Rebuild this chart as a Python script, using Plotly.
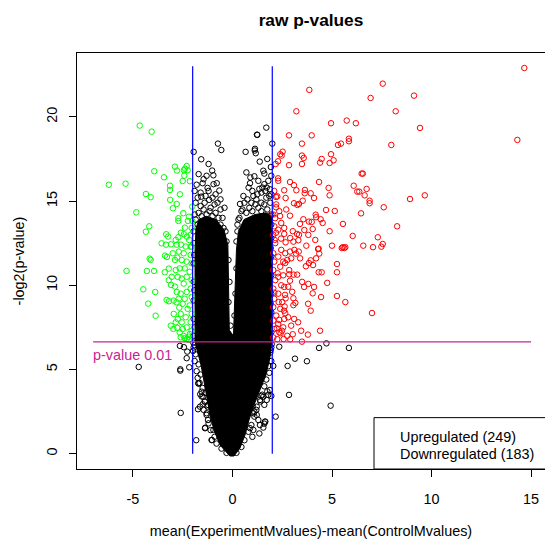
import math
import plotly.graph_objects as go

# ---------------- text / ticks ----------------
title = "raw p-values"
x_label = "mean(ExperimentMvalues)-mean(ControlMvalues)"
y_label = "-log2(p-value)"
x_ticks = [-5, 0, 5, 10, 15]
y_ticks = [0, 5, 10, 15, 20]
fc_cut = 2
p_cut = 0.01
p_label = "p-value 0.01"
legend_labels = ["Upregulated (249)", "Downregulated (183)"]

# ---------------- data ----------------
up_pts = [
    (14.66, 22.9), (7.55, 21.97), (3.86, 21.6), (9.12, 21.26), (6.94, 21.12), (3.21, 20.33), (8.2, 20.33),
    (4.95, 19.62), (5.74, 19.78), (6.2, 19.62), (9.42, 19.34), (2.84, 18.9), (3.98, 18.9), (3.49, 18.41),
    (5.85, 18.7), (5.85, 18.55), (5.3, 18.33), (5.45, 18.41), (7.98, 18.33), (14.31, 18.63), (2.52, 17.93),
    (2.40, 17.78), (2.47, 17.7), (2.29, 17.36), (2.17, 17.2), (2.84, 17.13), (3.49, 17.7), (3.58, 17.56),
    (3.49, 17.2), (4.48, 17.5), (4.4, 17.28), (4.95, 17.78), (5.08, 17.42), (4.88, 17.26), (6.49, 16.63),
    (6.55, 16.63), (2.29, 16.35), (2.89, 16.13), (3.09, 15.94), (4.35, 16.13), (4.83, 15.78), (6.09, 15.91),
    (6.27, 15.56), (6.37, 15.56), (6.74, 15.72), (6.64, 15.34), (6.89, 15.02), (6.89, 14.87), (2.6, 15.64),
    (2.25, 15.28), (2.19, 15.24), (3.21, 15.64), (3.64, 15.66), (3.63, 15.46), (3.93, 15.46), (4.1, 15.18),
    (3.09, 14.87), (3.26, 14.77), (3.34, 14.83), (3.53, 15.02), (4.88, 15.34), (2.67, 15.18), (8.92, 15.12),
    (9.66, 15.34), (7.6, 14.63), (6.46, 14.27), (4.7, 14.47), (5.14, 14.41), (4.18, 14.19), (4.2, 14.04),
    (4.43, 13.92), (4.53, 13.7), (2.89, 14.13), (2.39, 14.11), (2.19, 14.63), (2.14, 13.98), (3.56, 13.92),
    (3.39, 13.64), (3.84, 13.78), (3.98, 13.76), (4.03, 13.34), (3.81, 12.99), (3.61, 13.28), (5.55, 13.64),
    (8.27, 13.5), (4.88, 13.21), (6.04, 12.93), (7.3, 12.85), (7.55, 12.45), (7.48, 12.29), (7.06, 12.26),
    (6.57, 12.35), (3.03, 13.21), (3.24, 13.05), (3.34, 12.99), (2.6, 13.05), (2.44, 12.77), (2.67, 12.55),
    (3.06, 12.59), (3.31, 12.67), (3.71, 12.35), (4.16, 12.69), (4.33, 12.17), (5.0, 12.35), (5.54, 12.26),
    (5.67, 12.26), (2.19, 13.12), (2.12, 12.69), (4.3, 12.15), (4.36, 11.88), (5.49, 12.21), (5.62, 12.21),
    (3.11, 12.1), (3.19, 11.88), (3.33, 12.0), (2.89, 12.0), (2.65, 11.32), (3.84, 11.32), (4.05, 11.2),
    (3.69, 11.13), (3.93, 11.48), (4.2, 11.6), (5.25, 11.26), (5.25, 10.77), (4.33, 10.77), (4.48, 10.77),
    (4.76, 10.14), (3.81, 10.08), (2.27, 10.71), (2.55, 10.59), (2.85, 10.65), (3.07, 10.63), (3.25, 10.63),
    (2.89, 10.27), (2.8, 9.91), (3.0, 9.61), (2.64, 9.43), (2.67, 9.22), (3.06, 9.23), (3.16, 8.95),
    (3.06, 8.82), (2.62, 8.74), (2.32, 9.0), (2.1, 9.56), (4.03, 9.52), (4.45, 9.3), (5.25, 9.36),
    (5.67, 9.0), (3.93, 8.49), (7.01, 8.35), (4.4, 7.3), (3.79, 7.07), (3.49, 6.65), (3.03, 7.09),
    (2.9, 6.79), (2.57, 6.81), (2.42, 7.15), (2.59, 8.49), (2.65, 8.34), (2.35, 7.94), (2.22, 7.45),
    (2.49, 7.3), (2.05, 6.9), (2.1, 7.4), (2.05, 7.9), (2.2, 8.2), (2.05, 8.7), (2.1, 9.2), (2.05, 9.8),
    (2.15, 10.3), (2.05, 10.9), (2.1, 11.4), (2.05, 11.9), (2.15, 12.5), (2.05, 13.0), (2.1, 13.5),
    (2.05, 14.2), (2.2, 14.8), (2.1, 15.6), (2.3, 16.2), (2.25, 6.8), (2.35, 7.2), (2.3, 7.7), (2.4, 8.6),
    (2.3, 9.5), (2.45, 10.0), (2.3, 10.5), (2.4, 11.1), (2.3, 11.7), (2.45, 12.1), (2.3, 13.3), (2.45, 13.7),
    (2.35, 14.4), (2.55, 7.5), (2.6, 8.0), (2.5, 9.0), (2.6, 9.9), (2.55, 11.4), (2.65, 11.9), (2.6, 13.4),
    (2.7, 14.5), (2.75, 7.0), (2.8, 8.1), (2.85, 10.9), (2.75, 11.5), (2.9, 12.8), (2.95, 7.6), (3.1, 8.0),
    (3.3, 7.8), (3.45, 7.3), (3.6, 9.9), (3.8, 8.9), (4.1, 9.9), (3.5, 10.2), (3.4, 11.6), (2.95, 11.6),
]

down_pts = [
    (-4.66, 19.48), (-4.06, 19.12), (-2.89, 17.04), (-2.79, 16.81), (-2.3, 17.08), (-2.39, 16.92),
    (-2.44, 16.83), (-2.25, 16.83), (-3.44, 16.41), (-3.93, 16.77), (-2.42, 16.51), (-2.5, 16.19),
    (-2.14, 16.18), (-6.21, 15.97), (-5.37, 16.03), (-3.14, 15.91), (-3.14, 15.66), (-2.64, 15.4),
    (-3.13, 15.07), (-2.8, 14.83), (-2.99, 14.57), (-4.35, 15.42), (-4.11, 15.23), (-4.83, 14.33),
    (-2.72, 13.98), (-2.72, 13.82), (-2.47, 14.28), (-2.19, 14.07), (-2.24, 13.82), (-2.02, 14.67),
    (-2.02, 13.82), (-4.18, 13.5), (-4.35, 13.18), (-2.39, 13.42), (-2.59, 13.12), (-2.44, 13.03),
    (-2.72, 12.85), (-2.29, 12.89), (-3.33, 13.03), (-3.23, 12.89), (-3.56, 12.49), (-3.34, 12.41),
    (-3.09, 12.43), (-2.85, 12.69), (-2.8, 12.41), (-2.59, 12.41), (-2.17, 12.69), (-2.1, 12.29),
    (-5.32, 10.85), (-4.3, 10.85), (-3.94, 10.85), (-4.16, 11.58), (-4.11, 11.5), (-4.48, 9.76),
    (-3.88, 9.6), (-4.23, 8.91), (-3.86, 8.19), (-3.39, 11.76), (-3.29, 11.68), (-3.4, 10.77),
    (-3.2, 10.99), (-2.89, 11.5), (-2.77, 11.64), (-3.09, 10.02), (-2.89, 9.92), (-3.31, 9.13),
    (-3.19, 9.05), (-2.96, 9.09), (-2.81, 8.99), (-2.67, 8.67), (-2.97, 7.41), (-2.77, 7.47),
    (-2.6, 6.91), (-2.45, 6.99), (-2.3, 6.81), (-2.19, 6.75), (-2.14, 7.1), (-2.05, 7.3), (-2.1, 7.8),
    (-2.05, 8.3), (-2.15, 8.8), (-2.05, 9.3), (-2.1, 9.8), (-2.05, 10.3), (-2.15, 10.8), (-2.05, 11.3),
    (-2.1, 11.8), (-2.05, 12.3), (-2.1, 13.0), (-2.05, 13.4), (-2.3, 7.5), (-2.35, 8.1), (-2.25, 8.6),
    (-2.4, 9.2), (-2.3, 9.6), (-2.45, 10.1), (-2.3, 10.5), (-2.4, 11.0), (-2.3, 11.4), (-2.45, 11.9),
    (-2.35, 12.3), (-2.55, 7.8), (-2.6, 8.3), (-2.5, 8.9), (-2.6, 9.5), (-2.55, 10.4), (-2.65, 11.0),
    (-2.55, 11.5), (-2.7, 12.0), (-2.75, 8.0), (-2.8, 9.6), (-2.75, 10.5), (-2.85, 10.9), (-2.7, 9.2),
    (-2.95, 8.3), (-3.05, 10.5), (-3.0, 11.9), (-3.2, 10.3), (-2.2, 6.95), (-2.4, 6.85), (-2.65, 7.2),
    (-2.5, 7.4), (-2.85, 7.8), (-3.1, 7.6),
]

ns_pts = [
    (-1.95, 17.92), (-0.73, 18.41), (-0.56, 18.03), (-1.57, 17.48), (-1.2, 17.2), (-1.02, 16.81),
    (-0.96, 16.53), (1.7, 19.36), (1.25, 18.93), (0.66, 17.92), (1.12, 18.0), (1.17, 17.84), (1.13, 18.1),
    (2.0, 18.41), (1.93, 17.02), (1.6, 16.63), (1.1, 16.47), (1.37, 17.34), (-1.8, 15.97), (-1.5, 16.06),
    (-1.25, 15.78), (-0.79, 16.06), (-0.66, 15.62), (-1.57, 15.26), (-1.17, 15.07), (0.38, 14.83),
    (0.81, 15.8), (0.88, 16.06), (1.35, 15.72), (1.5, 15.8), (1.72, 15.8), (1.88, 15.7), (1.23, 18.94),
    (-4.71, 5.15), (-2.62, 5.01), (-2.62, 4.93), (-2.6, 2.42), (-2.64, 6.4), (-2.44, 6.32), (-2.27, 6.06),
    (-2.17, 5.13), (-2.3, 5.67), (-1.82, 0.8), (-1.7, 4.16), (-1.62, 3.53), (-1.73, 2.64), (-1.5, 2.93),
    (-1.37, 1.54), (-1.03, 0.81), (-1.23, 2.0), (2.35, 6.35), (4.35, 6.28), (4.72, 6.55), (5.85, 6.28),
    (3.14, 5.64), (2.77, 5.21), (3.74, 5.49), (2.05, 5.21), (2.84, 3.49), (1.95, 3.43), (4.93, 2.85),
    (2.17, 2.2), (1.45, 3.43), (1.6, 1.78), (1.02, 2.85), (1.05, 2.4),
    (-1.85, 14.9), (-1.6, 14.7), (-1.4, 14.9), (-1.1, 14.6), (-0.9, 14.8), (-0.6, 14.5), (-0.5, 14.0),
    (-1.9, 14.2), (-1.75, 13.6), (-0.35, 13.2), (-0.3, 12.6), (0.45, 14.4), (0.6, 14.9), (0.95, 14.9),
    (1.2, 15.1), (1.45, 14.9), (1.7, 15.2), (1.9, 14.9), (1.95, 15.4), (0.3, 13.9), (0.25, 13.2),
    (1.05, 15.3), (1.6, 16.0), (-0.2, 11.5), (-0.15, 10.2), (-0.2, 9.0), (0.2, 11.0), (0.15, 9.5),
    (0.1, 8.2), (-0.1, 7.6), (-1.95, 7.0), (-1.95, 8.0), (-1.95, 9.1), (-1.95, 10.2), (-1.95, 11.3),
    (-1.95, 12.5), (-1.95, 13.2), (-1.9, 7.5), (-1.92, 9.7), (-1.92, 11.8), (1.95, 7.2), (1.95, 8.4),
    (1.95, 9.5), (1.95, 10.6), (1.95, 11.7), (1.95, 12.8), (1.95, 13.6), (1.9, 14.1), (1.92, 8.9),
    (1.92, 12.2), (-1.95, 6.3), (-1.85, 5.9), (-1.9, 5.5), (-1.7, 5.3), (-1.8, 4.9), (-1.6, 4.7),
    (-1.65, 4.2), (-1.5, 3.9), (-1.55, 3.4), (-1.4, 3.1), (-1.45, 2.6), (-1.3, 2.3), (-1.2, 1.8),
    (-1.1, 1.4), (-0.9, 1.0), (-0.8, 0.6), (-0.55, 0.3), (-0.3, 0.05), (-1.35, 3.6), (-1.75, 4.5),
    (-1.25, 2.8), (1.95, 6.3), (1.9, 6.0), (1.95, 5.5), (1.8, 5.2), (1.85, 4.8), (1.7, 4.4), (1.6, 4.0),
    (1.75, 3.7), (1.5, 3.5), (1.4, 3.1), (1.6, 2.9), (1.2, 2.6), (1.1, 2.2), (1.3, 2.0), (0.95, 1.7),
    (0.8, 1.3), (1.0, 1.0), (0.6, 0.8), (0.45, 0.4), (0.2, 0.05), (1.65, 1.9), (1.55, 1.55), (1.35, 1.2),
    (1.22, 2.79), (1.1, 2.49), (1.22, 2.3), (1.38, 3.19), (1.55, 3.38), (1.72, 3.19), (1.8, 3.49),
    (1.88, 3.78), (1.63, 1.9), (1.38, 1.7), (1.05, 1.41), (0.88, 1.51), (-1.72, 4.18), (-1.55, 3.68),
    (-1.47, 3.38), (-1.38, 3.09), (-1.63, 2.79), (-1.22, 2.89), (-1.3, 2.4), (-1.38, 1.51), (-0.96, 1.41),
    (-1.05, 0.81), (-1.97, 6.6), (-1.9, 6.45), (-1.98, 6.1), (1.97, 6.5), (1.92, 6.15),
    (-1.85, 13.9), (-1.7, 14.3), (-1.55, 14.1), (-1.45, 14.5), (-1.3, 14.2), (-1.15, 14.4), (-1.0, 14.1),
    (-0.85, 14.3), (-0.7, 14.0), (-0.6, 13.6), (-0.45, 13.4), (-1.75, 15.2), (-1.6, 15.5), (-1.35, 15.3),
    (-1.2, 15.6), (-1.0, 15.2), (-0.85, 15.4), (-0.75, 14.9), (-1.9, 15.6), (-1.45, 16.3), (-1.7, 16.6),
    (-0.95, 16.0), (-1.3, 16.5), (-0.6, 15.1), (-0.4, 14.6), (0.35, 14.0), (0.5, 14.5), (0.7, 14.3),
    (0.85, 14.6), (1.0, 14.4), (1.15, 14.8), (1.3, 14.6), (1.45, 14.4), (1.6, 14.8), (1.75, 14.5),
    (1.85, 15.3), (0.55, 15.3), (0.75, 15.1), (1.0, 15.6), (1.25, 15.4), (1.45, 15.5), (1.65, 15.6),
    (1.8, 16.2), (0.9, 16.4), (1.3, 16.2), (1.55, 16.8), (0.2, 12.6), (0.25, 13.6), (1.95, 16.5),
    (1.75, 17.5), (0.7, 16.7), (1.95, 14.2),
]

# envelope of the saturated (fully overplotted) black cloud
ns_core_outline = [
    (-0.13, -0.14), (-0.63, 0.52), (-0.93, 1.41), (-1.13, 2.30), (-1.28, 3.31), (-1.43, 4.38),
    (-1.58, 5.27), (-1.78, 6.16), (-1.88, 6.75), (-1.88, 12.10), (-1.83, 13.4), (-1.68, 13.9),
    (-1.33, 14.1), (-0.83, 13.9), (-0.43, 13.3), (-0.23, 12.39), (-0.16, 7.34), (0.05, 6.99),
    (0.2, 12.10), (0.3, 13.2), (0.58, 13.9), (1.13, 14.2), (1.68, 14.3), (1.98, 14.1),
    (1.98, 6.75), (1.88, 5.68), (1.68, 4.67), (1.38, 3.78), (1.08, 2.89), (0.83, 2.00), (0.63, 1.11),
    (0.38, 0.34), (0.08, -0.14), (-0.13, -0.14),
]

# ---------------- figure ----------------
FONT = "Liberation Sans, Arial, sans-serif"
FS = 14.4
p_cut_y = -math.log2(p_cut)
PINK = "#C8258F"

fig = go.Figure()

marker_common = dict(symbol="circle-open", size=5.5)

fig.add_trace(go.Scatter(
    x=[p[0] for p in ns_core_outline], y=[p[1] for p in ns_core_outline],
    mode="lines", fill="toself", fillcolor="black", line=dict(color="black", width=1),
    hoverinfo="skip", showlegend=False))
fig.add_trace(go.Scatter(
    x=[p[0] for p in ns_pts], y=[p[1] for p in ns_pts], mode="markers",
    marker=dict(color="black", line=dict(color="black", width=1), **marker_common),
    showlegend=False))
fig.add_trace(go.Scatter(
    x=[p[0] for p in down_pts], y=[p[1] for p in down_pts], mode="markers",
    marker=dict(color="#00FF00", line=dict(color="#00FF00", width=1), **marker_common),
    showlegend=False))
fig.add_trace(go.Scatter(
    x=[p[0] for p in up_pts], y=[p[1] for p in up_pts], mode="markers",
    marker=dict(color="#FF0000", line=dict(color="#FF0000", width=1), **marker_common),
    showlegend=False))

# fold-change cut lines
for xv in (-fc_cut, fc_cut):
    fig.add_trace(go.Scatter(x=[xv, xv], y=[0, 23], mode="lines",
                             line=dict(color="#0000FF", width=1.2), showlegend=False, hoverinfo="skip"))
# p-value cut line
fig.add_trace(go.Scatter(x=[-7, 15], y=[p_cut_y, p_cut_y], mode="lines",
                         line=dict(color=PINK, width=1.2), showlegend=False, hoverinfo="skip"))

fig.add_annotation(x=-7.1, y=p_cut_y, xref="x", yref="y", text=p_label, showarrow=False,
                   xanchor="left", yanchor="top", yshift=-3,
                   font=dict(family=FONT, size=FS, color=PINK))

# legend box (text only, as in the original)
fig.add_shape(type="rect", xref="x", yref="y", x0=7.11, x1=16.5, y0=-0.91, y1=2.14,
              line=dict(color="black", width=1), fillcolor="white", layer="above")
fig.add_annotation(x=8.33, y=1.01, xref="x", yref="y", text=legend_labels[0], showarrow=False,
                   xanchor="left", yanchor="middle", font=dict(family=FONT, size=FS, color="black"))
fig.add_annotation(x=8.33, y=-0.02, xref="x", yref="y", text=legend_labels[1], showarrow=False,
                   xanchor="left", yanchor="middle", font=dict(family=FONT, size=FS, color="black"))

fig.update_layout(
    width=545, height=539,
    margin=dict(l=77, r=0, t=53, b=70, autoexpand=False),
    paper_bgcolor="white", plot_bgcolor="white",
    font=dict(family=FONT, size=FS, color="black"),
    title=dict(text="<b>" + title + "</b>", x=311 / 545, xanchor="center", y=1 - 20 / 539,
               yanchor="middle", font=dict(family=FONT, size=17.3, color="black")),
    showlegend=False,
)
fig.update_xaxes(
    range=[-7.81, 15.70], tickvals=x_ticks, ticktext=[str(v) for v in x_ticks],
    showgrid=False, zeroline=False, showline=True, linecolor="black", linewidth=1, mirror=True,
    ticks="outside", ticklen=7, tickcolor="black", tickwidth=1, ticklabelstandoff=10,
    title=dict(text=x_label, standoff=23, font=dict(family=FONT, size=FS)),
)
fig.update_yaxes(
    range=[-0.91, 23.79], tickvals=y_ticks, ticktext=[str(v) for v in y_ticks], tickangle=-90,
    showgrid=False, zeroline=False, showline=True, linecolor="black", linewidth=1, mirror=False,
    ticks="outside", ticklen=7, tickcolor="black", tickwidth=1, ticklabelstandoff=6,
    title=dict(text=y_label, standoff=16, font=dict(family=FONT, size=FS)),
)

fig.write_html("out.html")
